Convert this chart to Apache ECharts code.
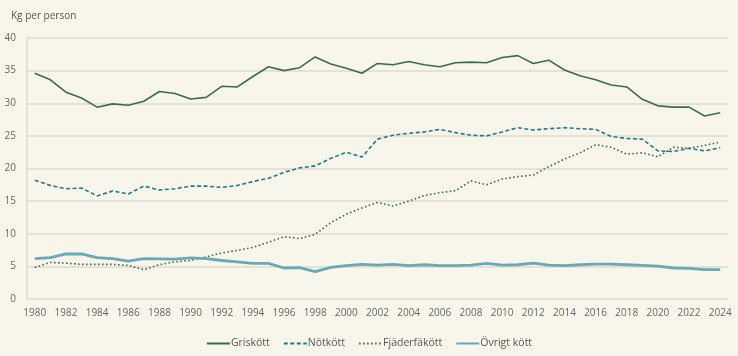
<!DOCTYPE html>
<html><head><meta charset="utf-8">
<script src="https://cdn.jsdelivr.net/npm/echarts@6/dist/echarts.min.js"></script>
<style>html,body{margin:0;padding:0;background:#f8f6ea;}#c{width:738px;height:356px;}</style>
</head><body><div id="c"></div>
<script>
const years = [];
for (let y = 1980; y <= 2024; y++) years.push(String(y));
const yAxisTitle = "Kg per person";
const griskott = [34.6,33.6,31.7,30.8,29.4,29.9,29.7,30.3,31.8,31.5,30.65,30.9,32.6,32.5,34.1,35.6,35.0,35.45,37.1,36.0,35.35,34.6,36.1,35.9,36.4,35.9,35.6,36.2,36.3,36.2,37.0,37.3,36.1,36.6,35.1,34.2,33.6,32.8,32.5,30.6,29.6,29.4,29.4,28.05,28.55];
const notkott = [18.2,17.4,16.9,17.0,15.8,16.55,16.1,17.3,16.7,16.9,17.3,17.3,17.1,17.4,18.0,18.5,19.4,20.1,20.4,21.55,22.5,21.75,24.5,25.1,25.4,25.6,26.0,25.5,25.1,25.0,25.6,26.25,25.9,26.1,26.25,26.1,26.0,24.9,24.6,24.5,22.7,22.6,23.1,22.7,23.2];
const fjaderfa = [4.85,5.6,5.5,5.3,5.3,5.3,5.15,4.5,5.25,5.7,5.9,6.45,7.05,7.45,7.9,8.7,9.55,9.25,9.9,11.7,13.0,13.95,14.8,14.25,15.0,15.85,16.3,16.6,18.1,17.5,18.4,18.75,19.0,20.3,21.45,22.4,23.65,23.25,22.2,22.4,21.8,23.25,23.1,23.55,24.05];
const ovrigt = [6.2,6.35,6.9,6.9,6.35,6.2,5.8,6.2,6.15,6.1,6.3,6.2,5.9,5.7,5.45,5.45,4.75,4.8,4.2,4.85,5.1,5.3,5.2,5.3,5.1,5.25,5.1,5.1,5.2,5.45,5.2,5.25,5.5,5.2,5.1,5.25,5.35,5.35,5.25,5.15,5.05,4.75,4.7,4.5,4.5];
const seriesNames = ["Griskött","Nötkött","Fjäderfäkött","Övrigt kött"];

const chart = echarts.init(document.getElementById('c'), null, {renderer:'canvas'});
const font = "'Open Sans', 'Noto Sans', sans-serif";
chart.setOption({
  backgroundColor: '#f8f6ea',
  animation: false,
  textStyle: {fontFamily: font},
  title: {text: yAxisTitle, left: 6, top: 6, textStyle: {fontSize: 10, fontWeight: 'normal', color: '#555', fontFamily: font}},
  grid: {left: 27, right: 10, top: 38, bottom: 57},
  legend: {
    bottom: 2, left: 'center', itemWidth: 23, itemHeight: 10, itemGap: 13,
    itemStyle: {opacity: 0},
    textStyle: {fontSize: 10.5, color: '#555', fontFamily: font, padding: [0,0,0,-4]},
    data: seriesNames
  },
  xAxis: {
    type: 'category', data: years, boundaryGap: true,
    axisLine: {show: false}, axisTick: {show: false},
    axisLabel: {interval: 1, fontSize: 10, color: '#666', margin: 9, fontFamily: font}
  },
  yAxis: {
    type: 'value', min: 0, max: 40, interval: 5,
    axisLine: {show: true, lineStyle: {color: '#dedbd2', width: 1.5}},
    axisTick: {show: false},
    axisLabel: {fontSize: 10, color: '#666', margin: 11, fontFamily: font},
    splitLine: {lineStyle: {color: '#dedbd2', width: 1.5}}
  },
  series: [
    {name: seriesNames[0], type: 'line', data: griskott, symbol: 'none', lineStyle: {color: '#3b6b52', width: 1.6}, itemStyle: {color: '#3b6b52'}},
    {name: seriesNames[1], type: 'line', data: notkott, symbol: 'none', lineStyle: {color: '#1e7a8e', width: 1.6, type: [4,2.5]}, itemStyle: {color: '#1e7a8e'}},
    {name: seriesNames[2], type: 'line', data: fjaderfa, symbol: 'none', lineStyle: {color: '#3b6b52', width: 1.6, type: [1.6,2.4]}, itemStyle: {color: '#3b6b52'}},
    {name: seriesNames[3], type: 'line', data: ovrigt, symbol: 'none', lineStyle: {color: '#68a9b7', width: 2.8}, itemStyle: {color: '#68a9b7'}}
  ]
});
</script></body></html>
